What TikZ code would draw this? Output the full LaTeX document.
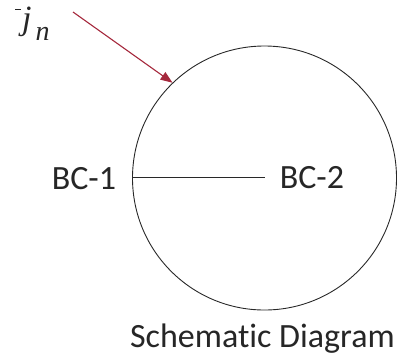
\documentclass[tikz,border=0pt]{standalone}
\usepackage{fontspec}
\setsansfont{Carlito}[Ligatures={NoCommon}]
\newfontfamily\varfont{Liberation Serif}
\usetikzlibrary{arrows.meta}
\definecolor{arrowred}{RGB}{165,40,60}
\definecolor{linegray}{RGB}{40,40,40}
\tikzset{
  lbl/.style={anchor=base, inner sep=0pt, font=\sffamily\fontsize{34}{34}\selectfont, text=black!85},
  ring/.style={circle, draw=linegray, line width=0.9pt, minimum size=264pt, inner sep=0pt},
  radius line/.style={draw=linegray, line width=0.9pt},
  fluxarrow/.style={draw=arrowred, line width=1.1pt, -{Triangle[length=12pt,width=9pt]}}
}
\begin{document}
\begin{tikzpicture}[x=1pt,y=-1pt]
\useasboundingbox (0,0) rectangle (409,360);
\node[ring] (c) at (264.5,178) {};
\coordinate (ctr) at (265,177);
\node[lbl] (bc1) at (84,189) {BC-1};
\node[lbl] (bc2) at (312,188) {BC-2};
\node[lbl] (title) at (262.5,347) {Schematic Diagram};
\node[anchor=base west, inner sep=0pt, text=black!85, font=\varfont\itshape] (flux) at (15,29)
  {\smash{\raisebox{19pt}{\rule{6pt}{1.3pt}}\hspace{1pt}{\fontsize{34}{34}\selectfont j}\hspace{4pt}\raisebox{-11pt}{\fontsize{28}{28}\selectfont n}}};
\coordinate (arrowstart) at (73,12);
\draw[radius line] (c.west |- ctr) -- (ctr);
\draw[fluxarrow] (arrowstart) -- (c.134.5);
\end{tikzpicture}
\end{document}
